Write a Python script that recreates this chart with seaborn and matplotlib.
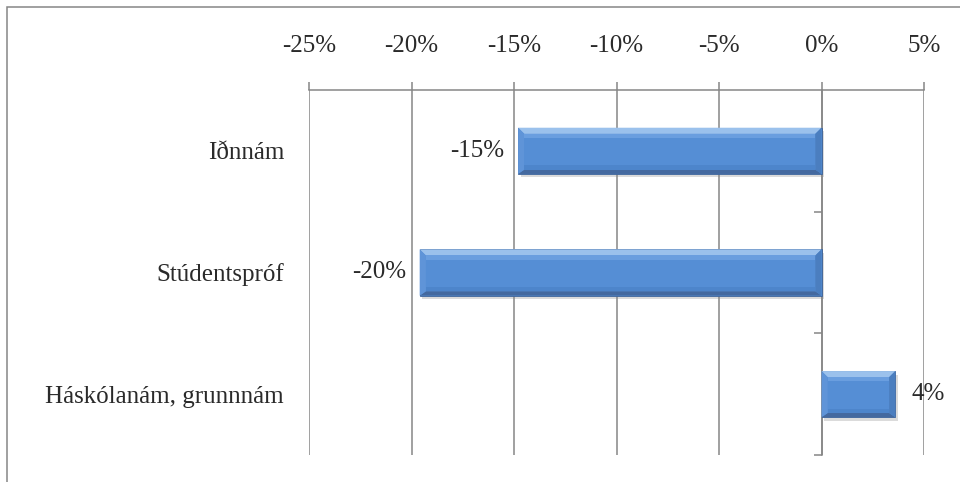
import matplotlib

matplotlib.use("Agg")
import matplotlib.patheffects as pe
import matplotlib.pyplot as plt
import pandas as pd
import seaborn as sns
from matplotlib.patches import Polygon, Rectangle
from matplotlib.ticker import FixedLocator, FuncFormatter

categories = ["Iðnnám", "Stúdentspróf", "Háskólanám, grunnnám"]
values = [-14.8, -19.6, 3.6]
x_ticks = [-25, -20, -15, -10, -5, 0, 5]

GRID = "#868686"
FACE = "#558ED5"
TEXT = "#2a2a2a"
FS = 18

sns.set_theme(style="white")
plt.rcParams["font.family"] = ["Liberation Serif", "DejaVu Serif"]

df = pd.DataFrame({"category": categories, "value": values})

fig = plt.figure(figsize=(9.6, 4.82), dpi=100)
ax = fig.add_axes([309 / 960, 1 - 455 / 482, (924 - 309) / 960, (455 - 90) / 482])

sns.barplot(
    data=df,
    x="value",
    y="category",
    orient="h",
    color=FACE,
    width=0.38,
    saturation=1,
    ax=ax,
)

ax.set_xlim(-25, 5)
ax.set_ylim(2.5, -0.5)
ax.set_xlabel("")
ax.set_ylabel("")

# x axis on top
ax.xaxis.set_ticks_position("top")
ax.xaxis.set_major_locator(FixedLocator(x_ticks))
ax.xaxis.set_major_formatter(FuncFormatter(lambda v, _: f"{v:.0f}%"))
ax.tick_params(axis="x", which="major", direction="out", length=6, width=1.1,
               color=GRID, pad=18, labelsize=FS, labelcolor=TEXT)
ax.grid(axis="x", color=GRID, linewidth=1.1)
ax.set_axisbelow(True)

# category labels on the left, boundary ticks on the zero line
ax.set_yticks(range(len(categories)))
ax.set_yticklabels(categories)
ax.yaxis.set_minor_locator(FixedLocator([0.5, 1.5, 2.5]))
ax.tick_params(axis="y", which="major", left=True, right=False, length=0,
               pad=18, labelsize=FS, labelcolor=TEXT)
ax.tick_params(axis="y", which="minor", left=False, right=True, direction="in",
               length=6, width=1.1, color=GRID)

for side in ["left", "bottom"]:
    ax.spines[side].set_visible(False)
ax.spines["top"].set_color(GRID)
ax.spines["top"].set_linewidth(1.1)
ax.spines["right"].set_position(("data", 0))
ax.spines["right"].set_color(GRID)
ax.spines["right"].set_linewidth(1.1)

# bevelled look on the bars
bev_x = 0.3
bev_y = 0.05
for patch, val in zip(ax.patches, values):
    x0, w = patch.get_x(), patch.get_width()
    y0, h = patch.get_y(), patch.get_height()
    left, right = min(x0, x0 + w), max(x0, x0 + w)
    top, bot = min(y0, y0 + h), max(y0, y0 + h)
    patch.set_edgecolor("#3F6499")
    patch.set_linewidth(0.6)
    patch.set_zorder(3)
    patch.set_path_effects([
        pe.SimplePatchShadow(offset=(2, -2.5), shadow_rgbFace="#8a8a8a", alpha=0.3),
        pe.Normal(),
    ])
    il, ir = left + bev_x, right - bev_x
    it, ib = top + bev_y, bot - bev_y * 0.7
    bevels = [
        ([(left, top), (right, top), (ir, it), (il, it)], "#9BC1EC"),
        ([(left, bot), (right, bot), (ir, ib), (il, ib)], "#44699F"),
        ([(left, top), (il, it), (il, ib), (left, bot)], "#5F94D8"),
        ([(right, top), (ir, it), (ir, ib), (right, bot)], "#4B7EBF"),
    ]
    for pts, col in bevels:
        ax.add_patch(Polygon(pts, closed=True, facecolor=col, edgecolor="none", zorder=4))
    ax.add_patch(Rectangle((il, it), ir - il, ib - it, facecolor=FACE,
                           edgecolor="none", zorder=4))
    ax.add_patch(Rectangle((il, it), ir - il, (ib - it) * 0.12, facecolor="#6A9EDF",
                           edgecolor="none", zorder=4))
    ax.add_patch(Rectangle((il, ib - (ib - it) * 0.12), ir - il, (ib - it) * 0.12,
                           facecolor="#4D85CB", edgecolor="none", zorder=4))

    if val < 0:
        ax.annotate(f"{val:.0f}%", (left, y0 + h / 2), xytext=(-10, 0),
                    textcoords="offset points", ha="right", va="center",
                    fontsize=FS, color=TEXT, zorder=6)
    else:
        ax.annotate(f"{val:.0f}%", (right, y0 + h / 2), xytext=(12, 0),
                    textcoords="offset points", ha="left", va="center",
                    fontsize=FS, color=TEXT, zorder=6)

# outer chart frame (only top and left edges fall inside the image)
fig.add_artist(Rectangle((7 / 960, -0.5), 2.0, 0.5 + (1 - 7 / 482),
                         transform=fig.transFigure, facecolor="none",
                         edgecolor=GRID, linewidth=1.1))

fig.savefig("out.png", dpi=100)
